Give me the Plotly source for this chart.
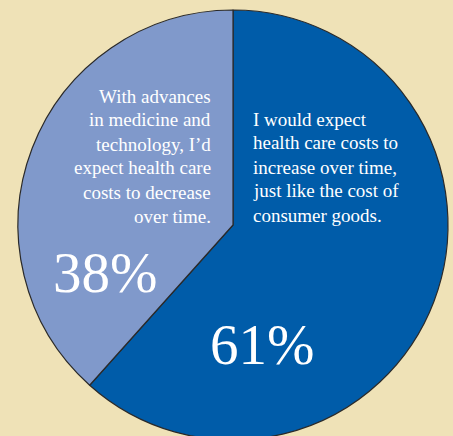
import plotly.graph_objects as go

labels = ["Increase over time", "Decrease over time"]
values = [61, 38]
pct_labels = ["61%", "38%"]
colors = ["#005CA9", "#8099CB"]
right_lines = ["I would expect", "health care costs to", "increase over time,",
               "just like the cost of", "consumer goods."]
left_lines = ["With advances", "in medicine and", "technology, I\u2019d",
              "expect health care", "costs to decrease", "over time."]

W, H = 453, 450
FONT = "Liberation Serif"

fig = go.Figure(go.Pie(
    labels=labels, values=values, sort=False, direction="clockwise", rotation=0,
    marker=dict(colors=colors, line=dict(color="#2a2a2a", width=1.2)),
    textinfo="none", hoverinfo="skip", showlegend=False,
    domain=dict(x=[18 / W, 448 / W], y=[1 - 440 / H, 1 - 10 / H]),
))

def px(x, y):
    return x / W, 1 - y / H

ann = []
for i, t in enumerate(right_lines):
    x, y = px(250.5, 119 + 24 * i)
    ann.append(dict(x=x, y=y, text=t, xanchor="left", yanchor="middle"))
for i, t in enumerate(left_lines):
    x, y = px(212.5, 96 + 24 * i)
    ann.append(dict(x=x, y=y, text=t, xanchor="right", yanchor="middle"))
for a in ann:
    a.update(xref="paper", yref="paper", showarrow=False,
             font=dict(family=FONT, size=19, color="white"))

x, y = px(262, 344)
ann.append(dict(x=x, y=y, text=pct_labels[0], xref="paper", yref="paper", showarrow=False,
                xanchor="center", yanchor="middle", font=dict(family=FONT, size=57, color="white")))
x, y = px(104.5, 272)
ann.append(dict(x=x, y=y, text=pct_labels[1], xref="paper", yref="paper", showarrow=False,
                xanchor="center", yanchor="middle", font=dict(family=FONT, size=57, color="white")))

fig.update_layout(width=W, height=H, margin=dict(l=0, r=0, t=0, b=0),
                  paper_bgcolor="#EFE2B7", plot_bgcolor="#EFE2B7", annotations=ann)

fig.write_html("out.html", config={"displayModeBar": False},
               post_script="document.documentElement.style.overflow='hidden';document.body.style.overflow='hidden';document.body.style.margin='0';")
